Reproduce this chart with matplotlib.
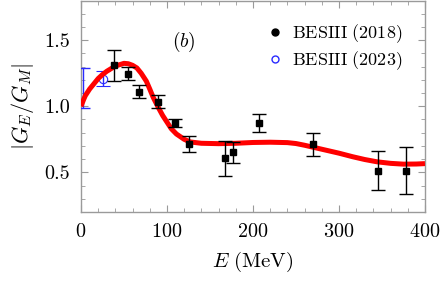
import matplotlib
matplotlib.use("Agg")
import matplotlib.pyplot as plt
from matplotlib.lines import Line2D
from matplotlib.ticker import MultipleLocator

plt.rcParams["font.family"] = "cmr10"
plt.rcParams["mathtext.fontset"] = "cm"
plt.rcParams["axes.formatter.use_mathtext"] = True

# BESIII (2018) points
e_2018 = [38, 55, 68, 89, 109, 126, 167, 177, 207, 270, 345, 378]
r_2018 = [1.31, 1.247, 1.11, 1.035, 0.874, 0.714, 0.606, 0.653, 0.874, 0.711, 0.513, 0.513]
err_2018 = [0.117, 0.05, 0.05, 0.05, 0.032, 0.06, 0.13, 0.08, 0.07, 0.09, 0.15, 0.18]

# BESIII (2023) points (first one only shows its error bar)
e_2023 = [2, 26]
r_2023 = [1.14, 1.21]
err_2023 = [0.15, 0.055]

# fit curve
e_fit = [0, 3, 5, 10, 15, 20, 25, 30, 40, 50, 55, 60, 65, 70, 76, 80, 84, 90, 95,
         100, 105, 111, 120, 127, 140, 160, 180, 200, 220, 240, 250, 260, 270,
         280, 290, 300, 316, 330, 344, 360, 375, 390, 400]
r_fit = [1.00, 1.05, 1.08, 1.13, 1.17, 1.21, 1.24, 1.265, 1.305, 1.325, 1.322,
         1.31, 1.29, 1.25, 1.19, 1.13, 1.067, 0.99, 0.93, 0.88, 0.83, 0.79,
         0.75, 0.73, 0.72, 0.717, 0.72, 0.726, 0.728, 0.725, 0.718, 0.705,
         0.69, 0.675, 0.66, 0.645, 0.618, 0.597, 0.58, 0.568, 0.562, 0.563, 0.566]

blue = "#2a2aff"

fig = plt.figure(figsize=(4.45, 2.94), dpi=100)
ax = fig.add_axes([0.182, 0.279, 0.773, 0.719])

ax.errorbar(e_2023[:1], r_2023[:1], yerr=err_2023[:1], fmt="none",
            ecolor=blue, elinewidth=1.0, capsize=5, capthick=1.0, zorder=3)
ax.errorbar(e_2023[1:], r_2023[1:], yerr=err_2023[1:], fmt="o", mfc="none", mec=blue,
            ms=6, mew=0.8, ecolor=blue, elinewidth=1.0, capsize=5, capthick=1.0, zorder=3)
ax.plot(e_fit, r_fit, color="#ff0000", lw=3.6, solid_capstyle="butt", zorder=4)
ax.errorbar(e_2018, r_2018, yerr=err_2018, fmt="s", color="black", ms=5,
            ecolor="black", elinewidth=1.0, capsize=5, capthick=1.0, zorder=5)

ax.set_xlim(0, 400)
ax.set_ylim(0.2, 1.8)
ax.xaxis.set_major_locator(MultipleLocator(100))
ax.xaxis.set_minor_locator(MultipleLocator(20))
ax.yaxis.set_major_locator(MultipleLocator(0.5))
ax.yaxis.set_minor_locator(MultipleLocator(0.1))
ax.set_yticks([0.5, 1.0, 1.5])
ax.set_yticklabels(["0.5", "1.0", "1.5"])

grey = "#9a9a9a"
for s in ax.spines.values():
    s.set_color(grey)
    s.set_linewidth(1.0)
ax.tick_params(which="both", direction="in", top=True, right=True, color=grey,
               labelsize=14.5, pad=8)
ax.tick_params(which="major", length=5)
ax.tick_params(which="minor", length=3)

ax.set_xlabel(r"$E\ \mathrm{(MeV)}$", fontsize=15, labelpad=6)
ax.set_ylabel(r"$|G_E/G_M|$", fontsize=16, labelpad=6)

ax.text(106, 1.45, r"$(b)$", fontsize=14)

handles = [
    Line2D([], [], marker="o", ls="none", color="black", ms=5),
    Line2D([], [], marker="o", ls="none", mfc="none", mec=blue, ms=5, mew=1.0),
]
ax.legend(handles, [r"$\mathrm{BESIII\ (2018)}$", r"$\mathrm{BESIII\ (2023)}$"],
          loc="upper right", bbox_to_anchor=(0.98, 0.975), frameon=False,
          fontsize=13, handletextpad=0.3, handlelength=1.2, labelspacing=0.25)

fig.savefig("out.png", dpi=100)
